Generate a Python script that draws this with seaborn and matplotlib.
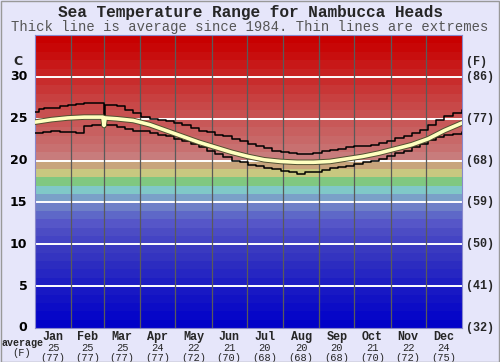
import numpy as np
import pandas as pd
import matplotlib
matplotlib.use("Agg")
import matplotlib.pyplot as plt
import matplotlib.patheffects as pe
import seaborn as sns

# ------------------------------------------------------------------------
# data
# ------------------------------------------------------------------------
months = ["Jan", "Feb", "Mar", "Apr", "May", "Jun",
          "Jul", "Aug", "Sep", "Oct", "Nov", "Dec"]
month_avg_c = [25, 25, 25, 24, 22, 21, 20, 20, 20, 21, 22, 24]
month_avg_f = [77, 77, 77, 77, 72, 70, 68, 68, 68, 70, 72, 75]
month_starts = [0, 31, 59, 90, 120, 151, 181, 212, 243, 273, 304, 334, 365]

avg_days = [0, 14, 28, 42, 56, 58, 59, 60, 70, 84, 98, 112, 126, 140, 154,
            168, 182, 196, 210, 224, 238, 252, 266, 280, 294, 308, 322,
            336, 350, 365]
avg_temp = [24.6, 24.9, 25.1, 25.2, 25.2, 25.2, 24.2, 25.1, 25.0, 24.8, 24.3,
            23.6, 22.9, 22.2, 21.6, 21.0, 20.5, 20.1, 19.9, 19.8, 19.8, 19.9,
            20.2, 20.5, 20.9, 21.4, 21.9, 22.6, 23.6, 24.5]

max_days = [0, 3, 8, 14, 21, 28, 35, 42, 49, 56, 59, 60, 66, 70, 77, 84, 91,
            98, 105, 112, 119, 126, 133, 140, 147, 154, 161, 168, 175, 182,
            189, 196, 203, 210, 217, 224, 231, 238, 245, 252, 259, 266, 273,
            280, 287, 294, 301, 308, 315, 322, 329, 336, 343, 350, 357, 365]
max_temp = [25.8, 26.2, 26.3, 26.3, 26.5, 26.6, 26.8, 26.9, 26.9, 26.9, 24.0,
            26.6, 26.6, 26.5, 26.0, 25.7, 25.2, 25.0, 24.9, 24.7, 24.5, 24.2,
            23.9, 23.6, 23.4, 23.1, 22.9, 22.6, 22.3, 22.0, 21.8, 21.5, 21.2,
            21.0, 20.9, 20.8, 20.8, 20.9, 21.1, 21.3, 21.4, 21.6, 21.7, 21.8,
            21.9, 22.1, 22.4, 22.7, 23.0, 23.3, 23.7, 24.2, 24.8, 25.3, 25.7,
            26.0]

min_days = [0, 7, 14, 21, 28, 35, 42, 49, 56, 63, 70, 77, 84, 91, 98, 105,
            112, 119, 126, 133, 140, 147, 154, 161, 168, 175, 182, 189, 196,
            203, 210, 217, 224, 231, 238, 245, 252, 259, 266, 273, 280, 287,
            294, 301, 308, 315, 322, 329, 336, 343, 350, 357, 365]
min_temp = [23.3, 23.4, 23.5, 23.4, 23.4, 23.3, 24.1, 24.2, 24.3, 24.2, 24.0,
            23.8, 23.6, 23.5, 23.3, 23.1, 22.9, 22.6, 22.3, 22.0, 21.6, 21.2,
            20.8, 20.4, 20.0, 19.8, 19.5, 19.3, 19.1, 19.0, 18.8, 18.7, 18.4,
            18.6, 18.7, 18.9, 19.1, 19.2, 19.4, 19.6, 19.8, 20.0, 20.2, 20.5,
            20.9, 21.2, 21.6, 22.0, 22.5, 22.8, 23.1, 23.2, 23.4]

y_ticks_c = [0, 5, 10, 15, 20, 25, 30]
y_ticks_f = ["(32)", "(41)", "(50)", "(59)", "(68)", "(77)", "(86)"]

# one colour band per degree C, 0 -> 35
band_colors = [
    "#0000c8", "#0606c8", "#0c0cc6", "#1212c4", "#1818c4", "#1e1ec2",
    "#2626c2", "#2c2cc0", "#3434c0", "#3a3ac0", "#4444c4", "#4c4cc4",
    "#5656c8", "#5e68c8", "#6e80c8", "#7aa0c8", "#80c8c8", "#80c880",
    "#c8c880", "#c8a47c", "#c87c7c", "#c87070", "#c86868", "#c86060",
    "#c85858", "#c85050", "#c84848", "#c84040", "#c83636", "#c82c2c",
    "#c82222", "#c81818", "#c80e0e", "#c80606", "#c80000",
]

BG = "#e6e6fa"
MONO = "Liberation Mono"

# ------------------------------------------------------------------------
# figure
# ------------------------------------------------------------------------
sns.set_theme(style="white")
fig = plt.figure(figsize=(5, 3.62), dpi=100, facecolor=BG)
ax = fig.add_axes([0.07, 0.094, 0.854, 0.809])

for i, c in enumerate(band_colors):
    ax.axhspan(i, i + 1, color=c, lw=0, zorder=0)

for t in y_ticks_c[1:]:
    ax.axhline(t, color="white", lw=1.4, zorder=1)
for m in month_starts[1:-1]:
    ax.axvline(m, color="#5a5a5a", lw=0.9, zorder=1)

max_df = pd.DataFrame({"day": max_days, "temp": max_temp})
min_df = pd.DataFrame({"day": min_days, "temp": min_temp})
avg_df = pd.DataFrame({"day": avg_days, "temp": avg_temp})

sns.lineplot(data=max_df, x="day", y="temp", ax=ax, color="black", lw=1.1,
             drawstyle="steps-post", zorder=3)
sns.lineplot(data=min_df, x="day", y="temp", ax=ax, color="black", lw=1.1,
             drawstyle="steps-post", zorder=3)
sns.lineplot(data=avg_df, x="day", y="temp", ax=ax, color="#ffffc0", lw=2.6,
             zorder=4,
             path_effects=[pe.Stroke(linewidth=4, foreground="#505030"), pe.Normal()])

ax.set_xlim(0, 365)
ax.set_ylim(0, 35)
ax.set_xlabel("")
ax.set_ylabel("")
ax.set_xticks([])
ax.set_yticks([])
for s in ax.spines.values():
    s.set_color("#8888cc")
    s.set_linewidth(0.8)

# y labels, left (C) and right (F)
ytr = ax.get_yaxis_transform()
for t, f in zip(y_ticks_c, y_ticks_f):
    ax.text(-0.018, t, str(t), transform=ytr, ha="right", va="center",
            fontsize=9, color="black", fontweight="bold")
    ax.text(1.01, t, f, transform=ytr, ha="left", va="center",
            fontsize=8.5, family=MONO, fontweight="bold")
ax.text(-0.03, 31.8, "C", transform=ytr, ha="right", va="center",
        fontsize=9, fontweight="bold")
ax.text(1.01, 31.8, "(F)", transform=ytr, ha="left", va="center",
        fontsize=8.5, family=MONO, fontweight="bold")

# month labels with monthly averages
xtr = ax.get_xaxis_transform()
for i, m in enumerate(months):
    xc = (month_starts[i] + month_starts[i + 1]) / 2
    ax.text(xc, -0.01, m, transform=xtr, ha="center", va="top",
            fontsize=8.5, family=MONO, fontweight="bold")
    ax.text(xc, -0.05, str(month_avg_c[i]), transform=xtr, ha="center",
            va="top", fontsize=7.5, family=MONO)
    ax.text(xc, -0.085, f"({month_avg_f[i]})", transform=xtr, ha="center",
            va="top", fontsize=7.5, family=MONO)
fig.text(0.044, 0.052, "average", ha="center", va="center", fontsize=7.2,
         family=MONO, fontweight="bold")
fig.text(0.044, 0.024, "(F)", ha="center", va="center", fontsize=7.5, family=MONO)

fig.text(0.5, 0.966, "Sea Temperature Range for Nambucca Heads", ha="center",
         va="center", fontsize=11.6, family=MONO, fontweight="bold")
fig.text(0.5, 0.925, "Thick line is average since 1984. Thin lines are extremes",
         ha="center", va="center", fontsize=10, family=MONO, color="#555555")

fig.patches.append(plt.Rectangle((0.001, 0.001), 0.997, 0.997, fill=False,
                                 edgecolor="#999999", lw=1,
                                 transform=fig.transFigure, figure=fig))

fig.savefig("out.png", dpi=100, facecolor=BG)
